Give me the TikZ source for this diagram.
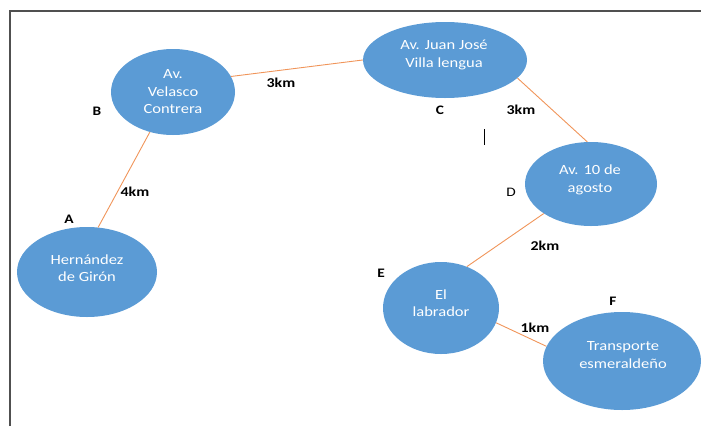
\documentclass[tikz,border=0pt]{standalone}
\usepackage{fontspec}
\setmainfont[FakeStretch=1.18]{Carlito}
\usetikzlibrary{shapes.geometric}

\definecolor{placeblue}{HTML}{5B9BD5}
\definecolor{roadorange}{HTML}{F0955A}
\definecolor{framegray}{HTML}{505050}

\tikzset{
  place/.style={ellipse, fill=placeblue, draw=none, inner sep=0pt},
  placetext/.style={text=white, align=center, inner sep=0pt,
    font=\fontsize{14}{17.5}\selectfont},
  road/.style={draw=roadorange, line width=0.9pt},
  dist/.style={font=\fontsize{13.5}{15}\selectfont\bfseries, inner sep=0pt},
  tag/.style={font=\fontsize{13}{15}\selectfont\bfseries, inner sep=0pt},
  tagplain/.style={font=\fontsize{13}{15}\selectfont, inner sep=0pt},
}

\begin{document}
\begin{tikzpicture}[x=1pt, y=-1pt]
\useasboundingbox (0,0) rectangle (701,426);

% page frame (top and left edges)
\draw[framegray, line width=1.3pt] (10,426) -- (10,11) -- (701,11);

% stops along the route
\node[place, minimum width=140, minimum height=90] (A) at (87,272) {};
\node[place, minimum width=124, minimum height=86] (B) at (173,92) {};
\node[place, minimum width=164, minimum height=76] (C) at (445,60) {};
\node[place, minimum width=132, minimum height=84] (D) at (591,184) {};
\node[place, minimum width=116, minimum height=92] (E) at (441,308) {};
\node[place, minimum width=158, minimum height=98] (F) at (622,361) {};

% names inside the stops
\node[placetext] (tA) at (87,268) {Hernández\\de Girón};
\node[placetext] (tB) at (173,92) {Av.\\Velasco\\Contrera};
\node[placetext] (tC) at (444,55) {Av. Juan José\\Villa lengua};
\node[placetext] (tD) at (590,180) {Av. 10 de\\agosto};
\node[placetext] (tE) at (441,303) {El\\labrador};
\node[placetext] (tF) at (623,355) {Transporte\\esmeraldeño};

% roads between stops
\draw[road] (A.76) -- (B.240);
\draw[road] (B.15) -- (C.180);
\draw[road] (C.-14) -- (D.95);
\draw[road] (D.212) -- (E.58);
\draw[road] (E.-15) -- (F.169);

% distances
\node[dist] (d1) at (135,192) {4km};
\node[dist] (d2) at (281,83) {3km};
\node[dist] (d3) at (521,110) {3km};
\node[dist] (d4) at (545,246) {2km};
\node[dist] (d5) at (535,328) {1km};

% stop letters
\node[tag] (lA) at (69,219) {A};
\node[tag] (lB) at (97,111) {B};
\node[tag] (lC) at (440,110) {C};
\node[tagplain] (lD) at (511,192) {D};
\node[tag] (lE) at (381,273) {E};
\node[tag] (lF) at (613,301) {F};

% text cursor mark
\draw[black, line width=0.9pt] (484,129) -- (484,145);
\end{tikzpicture}
\end{document}
